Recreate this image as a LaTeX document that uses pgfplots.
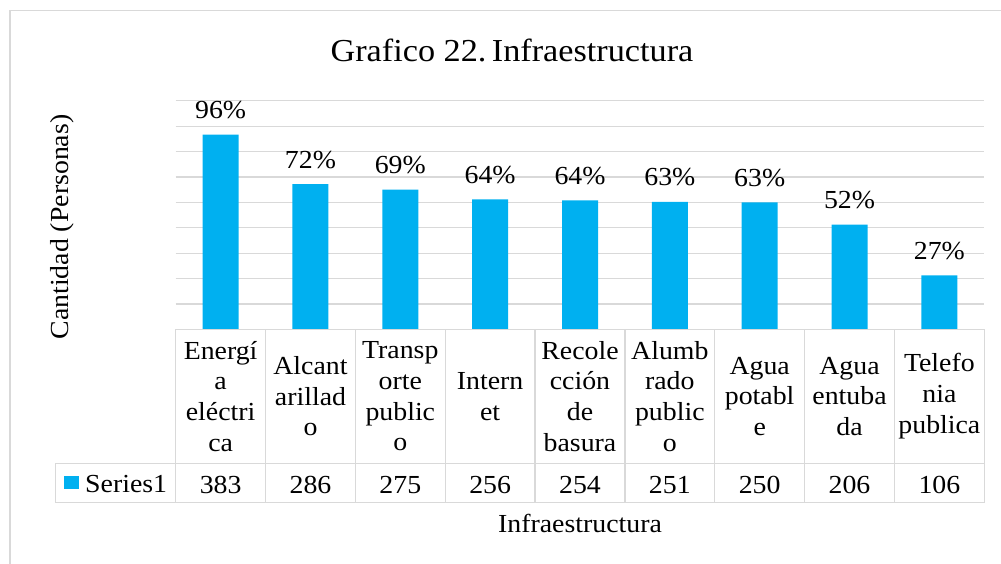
\documentclass[border=0pt]{standalone}
\usepackage{pgfplots}
\pgfplotsset{compat=1.18}
\usepackage{pgfplotstable}
\usepackage{fontspec}
\setmainfont{Liberation Serif}[FakeStretch=1.07]
\frenchspacing
\definecolor{barblue}{HTML}{00B0F0}
\definecolor{gridgray}{HTML}{D9D9D9}
\pgfkeys{/pgf/number format/assume math mode=true}
\pgfplotstableread{
x v pct
0 383 96
1 286 72
2 275 69
3 256 64
4 254 64
5 251 63
6 250 63
7 206 52
8 106 27
}\datatab
\begin{document}
\begin{tikzpicture}
\path[use as bounding box] (0pt,0pt) rectangle (1001pt,-564pt);
% chart border
\draw[gridgray, line width=1.2pt] (10pt,-580pt) -- (10pt,-10.5pt) -- (1010pt,-10.5pt);
% title
\node[anchor=base, font=\fontsize{32}{38}\selectfont] at (512pt,-62pt) {Grafico 22.\,Infraestructura};
% y label
\node[rotate=90, anchor=center, font=\fontsize{26}{30.7}\selectfont] at (62pt,-227pt) {Cantidad (Personas)};
% x label
\node[anchor=base, font=\fontsize{26}{30.7}\selectfont] at (580pt,-532pt) {Infraestructura};
\begin{axis}[
  at={(175.7pt,-329.3pt)}, anchor=south west,
  scale only axis, width=808.6pt, height=228.6pt,
  xmin=-0.5, xmax=8.5, ymin=0, ymax=450,
  axis line style={draw=none},
  ytick={0,50,...,450}, yticklabels={},
  ymajorgrids, grid style={gridgray, line width=1.2pt},
  major tick length=0pt,
  xtick={0,...,8},
  xticklabels={{Energí\\a\\eléctri\\ca},{Alcant\\arillad\\o},{Transp\\orte\\public\\o},{Intern\\et},{Recole\\cción\\de\\basura},{Alumb\\rado\\public\\o},{Agua\\potabl\\e},{Agua\\entuba\\da},{Telefo\\nia\\publica}},
  xticklabel style={anchor=center, yshift=-67pt, align=center, font=\fontsize{26}{30.7}\selectfont, inner sep=0pt},
  /pgf/number format/assume math mode=true,
  clip=false,
]
\addplot[ybar, bar width=36pt, fill=barblue, draw=none,
  point meta=explicit,
  nodes near coords={\pgfmathprintnumber[assume math mode=true]{\pgfplotspointmeta}\%},
  nodes near coords style={anchor=base, yshift=16pt, inner sep=0pt, font=\fontsize{26}{30.7}\selectfont},
] table[x=x, y=v, meta=pct] {\datatab};
\addplot[draw=none, mark=none,
  point meta=explicit,
  nodes near coords={\pgfmathprintnumber[assume math mode=true]{\pgfplotspointmeta}},
  nodes near coords style={anchor=base, inner sep=0pt, font=\fontsize{26}{30.7}\selectfont},
] table[x=x, y expr=-322.6, meta=v] {\datatab};
\end{axis}
% data table grid
\begin{scope}[gridgray, line width=1.2pt]
\draw (175.7pt,-329.3pt) -- (984.3pt,-329.3pt);
\draw (55.3pt,-463.3pt) -- (984.3pt,-463.3pt);
\draw (55.3pt,-502.7pt) -- (984.3pt,-502.7pt);
\draw (55.3pt,-463.3pt) -- (55.3pt,-502.7pt);
\foreach \k in {0,...,9} {
  \draw ({175.7pt+\k*89.84pt},-329.3pt) -- ({175.7pt+\k*89.84pt},-502.7pt);
}
\end{scope}
% legend key in table
\fill[barblue] (64.3pt,-475.7pt) rectangle (79pt,-489.3pt);
\node[anchor=base west, inner sep=0pt, font=\fontsize{26}{30.7}\selectfont] at (85pt,-492pt) {Series1};
\end{tikzpicture}
\end{document}
